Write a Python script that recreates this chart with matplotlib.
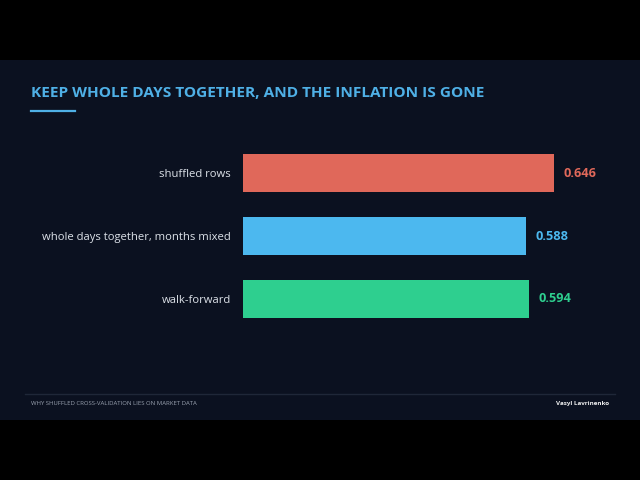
import matplotlib.pyplot as plt
from matplotlib.patches import Rectangle
from matplotlib.lines import Line2D

plt.rcParams['font.family'] = ['Open Sans', 'DejaVu Sans']

labels = ['shuffled rows', 'whole days together, months mixed', 'walk-forward']
values = [0.646, 0.588, 0.594]
colors = ['#e0685a', '#4cb8ef', '#2ecf8f']

bg = '#0b1120'

fig = plt.figure(figsize=(6.4, 4.8), dpi=100)
fig.patch.set_facecolor('black')
# dark panel between the black bands
fig.add_artist(Rectangle((0, 60 / 480), 1, 360 / 480, transform=fig.transFigure,
                         facecolor=bg, edgecolor='none', zorder=0))

ax = fig.add_axes([243 / 640, 1 - 330.5 / 480, 385 / 640, 189 / 480])
ax.set_facecolor('none')
y = range(len(labels))
ax.barh(y, values, height=0.6, color=colors, edgecolor='none')
ax.set_xlim(0, 0.8)
ax.set_ylim(2.5, -0.5)
ax.set_yticks(list(y))
ax.set_yticklabels(labels, color='#dce1e8', fontsize=8.1)
ax.tick_params(axis='y', length=0, pad=8.5)
ax.set_xticks([])
for s in ax.spines.values():
    s.set_visible(False)
for i, (v, c) in enumerate(zip(values, colors)):
    ax.text(v + 0.019, i, f'{v:.3f}', color=c, fontsize=9.2, fontweight='bold',
            va='center', ha='left')

fig.text(31 / 640, 1 - 93 / 480, 'KEEP WHOLE DAYS TOGETHER, AND THE INFLATION IS GONE',
         color='#4fb0e6', fontsize=11.1, fontweight='bold', va='center', ha='left')
fig.add_artist(Line2D([31 / 640, 75 / 640], [1 - 111 / 480] * 2, color='#4fb0e6',
                      linewidth=1.6, transform=fig.transFigure))

fig.add_artist(Line2D([25 / 640, 615 / 640], [1 - 393.5 / 480] * 2, color='#1f2738',
                      linewidth=1.0, transform=fig.transFigure))
fig.text(31 / 640, 1 - 403.5 / 480, 'WHY SHUFFLED CROSS-VALIDATION LIES ON MARKET DATA',
         color='#9aa2b0', fontsize=4.3, va='center', ha='left')
fig.text(609 / 640, 1 - 403.5 / 480, 'Vasyl Lavrinenko', color='#f0f0f0',
         fontsize=4.5, fontweight='bold', va='center', ha='right')

fig.savefig('out.png', dpi=100, facecolor=fig.get_facecolor())
